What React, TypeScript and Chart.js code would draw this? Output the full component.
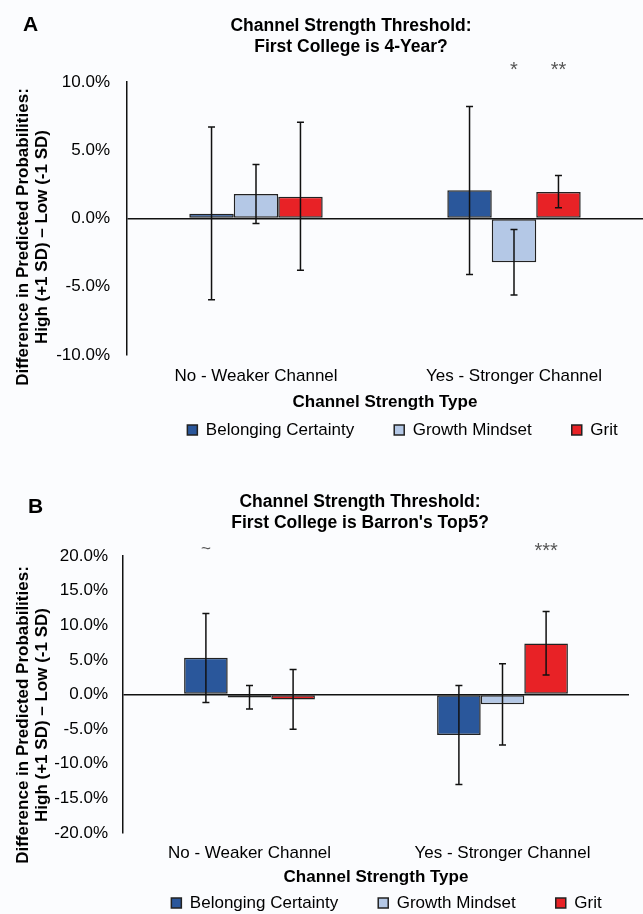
import React, { useEffect, useRef } from "react";
import { Chart, registerables } from "chart.js";

Chart.register(...registerables);

const categories = ["No - Weaker Channel", "Yes - Stronger Channel"];
const seriesNames = ["Belonging Certainty", "Growth Mindset", "Grit"];
const seriesColors = ["#2A579B", "#B4C8E6", "#E82226"];
const yTitleLines = ["Difference in Predicted Probabilities:", "High (+1 SD) \u2013 Low (-1 SD)"];
const xTitle = "Channel Strength Type";

// Panel A: First College is 4-Year?
const aBelonging = [0.35, 2.07];
const aGrowth = [1.8, -3.2];
const aGrit = [1.6, 1.95];
const aBelongingLow = [-5.95, -4.1];
const aBelongingHigh = [6.7, 8.2];
const aGrowthLow = [-0.37, -5.6];
const aGrowthHigh = [3.95, -0.8];
const aGritLow = [-3.8, 0.78];
const aGritHigh = [7.05, 3.15];
const aStars = [["", ""], ["", "*"], ["", "**"]];
const aTicks = [-10, -5, 0, 5, 10];

// Panel B: First College is Barron's Top5?
const bBelonging = [5.3, -5.85];
const bGrowth = [-0.45, -1.4];
const bGrit = [-0.72, 7.35];
const bBelongingLow = [-1.15, -13.0];
const bBelongingHigh = [11.7, 1.3];
const bGrowthLow = [-2.1, -7.3];
const bGrowthHigh = [1.3, 4.45];
const bGritLow = [-5.0, 2.8];
const bGritHigh = [3.6, 12.0];
const bStars = [["~", ""], ["", ""], ["", "***"]];
const bTicks = [-20, -15, -10, -5, 0, 5, 10, 15, 20];

const FONT = "'Liberation Sans', Arial, sans-serif";
const LEG_PAD = 40;

type PanelProps = {
  letter: string;
  letterX: number;
  letterY: number;
  title: string[];
  titleX: number;
  titleY: number;
  values: number[][];
  lows: number[][];
  highs: number[][];
  stars: string[][];
  starGap: number;
  ticks: number[];
  leftWidth: number;
  tickPad: number;
  rightPad: number;
  topPad: number;
  xHeight: number;
  xTickPad: number;
  xTitlePad: number;
  legH: number;
  legBottomPad: number;
  legDx: number;
  yTitleY: number;
};

function Panel(p: PanelProps) {
  const ref = useRef<HTMLCanvasElement>(null);
  useEffect(() => {
    if (!ref.current) return;
    const extras = {
      id: "extras",
      beforeLayout(chart: any) {
        const lg = chart.legend;
        if (lg && !lg.__patched) {
          const orig = lg.fit;
          lg.fit = function () {
            orig.call(this);
            this.height = p.legH;
          };
          lg.__patched = true;
        }
      },
      afterLayout(chart: any) {
        const lg = chart.legend;
        if (!lg) return;
        // legend text is drawn at top + padding + itemHeight/2; move it to the box centre
        const shift = LEG_PAD + 17 / 2 - p.legH / 2;
        lg.top -= shift;
        lg.left += p.legDx;
        lg.right += p.legDx;
      },
      afterDatasetsDraw(chart: any) {
        const ctx = chart.ctx;
        const y = chart.scales.y;
        ctx.save();
        ctx.strokeStyle = "#111";
        ctx.lineWidth = 1.5;
        chart.data.datasets.forEach((ds: any, i: number) => {
          const meta = chart.getDatasetMeta(i);
          meta.data.forEach((bar: any, j: number) => {
            const x = bar.x;
            const y1 = y.getPixelForValue(p.lows[i][j]);
            const y2 = y.getPixelForValue(p.highs[i][j]);
            ctx.beginPath();
            ctx.moveTo(x, y1);
            ctx.lineTo(x, y2);
            ctx.moveTo(x - 3.5, y1);
            ctx.lineTo(x + 3.5, y1);
            ctx.moveTo(x - 3.5, y2);
            ctx.lineTo(x + 3.5, y2);
            ctx.stroke();
            const s = p.stars[i][j];
            if (s) {
              ctx.fillStyle = "#555";
              ctx.font = `${s === "~" ? 17 : 20}px ${FONT}`;
              ctx.textAlign = "center";
              ctx.textBaseline = "middle";
              ctx.fillText(s, x, chart.chartArea.top - p.starGap + (s === "~" ? 0 : 2));
            }
          });
        });
        ctx.restore();
      },
      afterDraw(chart: any) {
        const ctx = chart.ctx;
        ctx.save();
        ctx.fillStyle = "#000";
        ctx.font = `bold 21px ${FONT}`;
        ctx.textAlign = "left";
        ctx.textBaseline = "middle";
        ctx.fillText(p.letter, p.letterX, p.letterY);
        ctx.font = `bold 17.5px ${FONT}`;
        ctx.textAlign = "center";
        p.title.forEach((t, k) => ctx.fillText(t, p.titleX, p.titleY + k * 20.7));
        // y axis title (two rotated lines)
        ctx.font = `bold 17px ${FONT}`;
        yTitleLines.forEach((t, k) => {
          ctx.save();
          ctx.translate(23.3 + k * 18.6, p.yTitleY);
          ctx.rotate(-Math.PI / 2);
          ctx.fillText(t, 0, 0);
          ctx.restore();
        });
        ctx.restore();
      },
    };
    const chart = new Chart(ref.current, {
      type: "bar",
      data: {
        labels: categories,
        datasets: seriesNames.map((n, i) => ({
          label: n,
          data: p.values[i],
          backgroundColor: seriesColors[i],
          borderColor: "#222",
          borderWidth: 1.5,
          borderSkipped: false,
          categoryPercentage: 0.517,
          barPercentage: 1,
        })),
      },
      options: {
        responsive: false,
        animation: false,
        events: [],
        layout: { padding: { top: p.topPad, right: p.rightPad, left: 0, bottom: p.legBottomPad } },
        plugins: {
          title: { display: false },
          tooltip: { enabled: false },
          legend: {
            display: true,
            position: "bottom",
            fullSize: true,
            labels: {
              boxWidth: 10,
              boxHeight: 10,
              padding: LEG_PAD,
              color: "#000",
              font: { size: 17, family: FONT },
            },
          },
        },
        scales: {
          x: {
            afterFit(scale: any) {
              scale.height = p.xHeight;
            },
            grid: { display: false, drawTicks: false },
            border: { display: false },
            ticks: { color: "#000", font: { size: 17, family: FONT }, padding: p.xTickPad },
            title: {
              display: true,
              text: xTitle,
              color: "#000",
              font: { size: 17, weight: "bold", family: FONT, lineHeight: 1.2 },
              padding: { top: 0, bottom: p.xTitlePad },
            },
          },
          y: {
            min: p.ticks[0],
            max: p.ticks[p.ticks.length - 1],
            afterBuildTicks(scale: any) {
              scale.ticks = p.ticks.map((v) => ({ value: v }));
            },
            afterFit(scale: any) {
              scale.width = p.leftWidth;
            },
            grid: {
              drawTicks: false,
              lineWidth: 1.5,
              color: (c: any) => (c.tick && c.tick.value === 0 ? "#111" : "rgba(0,0,0,0)"),
            },
            border: { display: true, color: "#111", width: 1.5 },
            ticks: {
              color: "#000",
              padding: p.tickPad,
              font: { size: 17, family: FONT },
              callback: (v: any) => Number(v).toFixed(1) + "%",
            },
          },
        },
      },
      plugins: [extras],
    });
    return () => chart.destroy();
  }, []);
  return <canvas ref={ref} width={643} height={457} style={{ display: "block" }} />;
}

export default function App() {
  return (
    <div style={{ position: "absolute", left: 0, top: 0, width: 643, height: 914, background: "#FBFCFE" }}>
      <Panel
        letter="A"
        letterX={23}
        letterY={25}
        title={["Channel Strength Threshold:", "First College is 4-Year?"]}
        titleX={351}
        titleY={26}
        values={[aBelonging, aGrowth, aGrit]}
        lows={[aBelongingLow, aGrowthLow, aGritLow]}
        highs={[aBelongingHigh, aGrowthHigh, aGritHigh]}
        stars={aStars}
        starGap={14}
        ticks={aTicks}
        leftWidth={127}
        tickPad={17}
        rightPad={0}
        topPad={82}
        xHeight={63}
        xTickPad={11}
        xTitlePad={5}
        legH={24}
        legBottomPad={15}
        legDx={81}
        yTitleY={237}
      />
      <Panel
        letter="B"
        letterX={28}
        letterY={50}
        title={["Channel Strength Threshold:", "First College is Barron's Top5?"]}
        titleX={360}
        titleY={45}
        values={[bBelonging, bGrowth, bGrit]}
        lows={[bBelongingLow, bGrowthLow, bGritLow]}
        highs={[bBelongingHigh, bGrowthHigh, bGritHigh]}
        stars={bStars}
        starGap={7}
        ticks={bTicks}
        leftWidth={123}
        tickPad={15}
        rightPad={14}
        topPad={99}
        xHeight={60}
        xTickPad={10}
        xTitlePad={5}
        legH={20}
        legBottomPad={1}
        legDx={72}
        yTitleY={258}
      />
    </div>
  );
}
